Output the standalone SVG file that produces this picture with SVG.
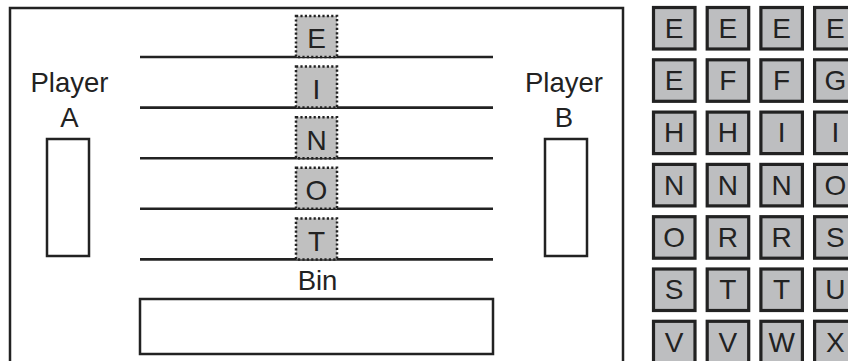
<svg xmlns="http://www.w3.org/2000/svg" width="848" height="361" viewBox="0 0 848 361">
<style>
.frame{fill:none;stroke:#222;stroke-width:2.5}
.rail{stroke:#222;stroke-width:2.6}
.box{fill:#fff;stroke:#222;stroke-width:2.5}
.slot{fill:#c0c0c0;stroke:#222;stroke-width:2.5;stroke-dasharray:2.2 2.2}
.tile{fill:#bdbec0;stroke:#222;stroke-width:3.2}
.lbl{font-family:"Liberation Sans",Arial,sans-serif;font-size:27.5px;fill:#222;text-anchor:middle}
.ltr{font-family:"Liberation Sans",Arial,sans-serif;font-size:28px;fill:#222;text-anchor:middle}
</style>
<rect width="848" height="361" fill="#fff"/>
<g id="board">
<rect class="frame" x="10" y="8" width="613" height="370"/>
</g>
<g id="connectors">
<line class="rail" x1="140" y1="57" x2="493" y2="57"/>
<line class="rail" x1="140" y1="107.6" x2="493" y2="107.6"/>
<line class="rail" x1="140" y1="158.2" x2="493" y2="158.2"/>
<line class="rail" x1="140" y1="208.8" x2="493" y2="208.8"/>
<line class="rail" x1="140" y1="259.4" x2="493" y2="259.4"/>
</g>
<g id="slot-E"><rect class="slot" x="296" y="16" width="41" height="41"/><text class="ltr" x="316.5" y="48.3">E</text></g>
<g id="slot-I"><rect class="slot" x="296" y="66.6" width="41" height="41"/><text class="ltr" x="316.5" y="98.9">I</text></g>
<g id="slot-N"><rect class="slot" x="296" y="117.2" width="41" height="41"/><text class="ltr" x="316.5" y="149.5">N</text></g>
<g id="slot-O"><rect class="slot" x="296" y="167.8" width="41" height="41"/><text class="ltr" x="316.5" y="200.1">O</text></g>
<g id="slot-T"><rect class="slot" x="296" y="218.4" width="41" height="41"/><text class="ltr" x="316.5" y="250.7">T</text></g>
<g id="player-a">
<text class="lbl" x="69.5" y="91.5">Player</text>
<text class="lbl" x="69.5" y="127">A</text>
<rect class="box" x="47" y="139" width="42" height="117"/>
</g>
<g id="player-b">
<text class="lbl" x="564" y="91.5">Player</text>
<text class="lbl" x="564" y="127">B</text>
<rect class="box" x="545" y="139" width="42" height="117"/>
</g>
<g id="bin">
<text class="lbl" x="317.5" y="290">Bin</text>
<rect class="box" x="140" y="299" width="353" height="55"/>
</g>
<g id="pool">
<g id="t1"><rect class="tile" x="653.5" y="7.5" width="41.5" height="41.5"/><text class="ltr" x="674.2" y="37.8">E</text></g>
<g id="t2"><rect class="tile" x="707.2" y="7.5" width="41.5" height="41.5"/><text class="ltr" x="727.9" y="37.8">E</text></g>
<g id="t3"><rect class="tile" x="760.9" y="7.5" width="41.5" height="41.5"/><text class="ltr" x="781.6" y="37.8">E</text></g>
<g id="t4"><rect class="tile" x="814.6" y="7.5" width="41.5" height="41.5"/><text class="ltr" x="835.3" y="37.8">E</text></g>
<g id="t5"><rect class="tile" x="653.5" y="59.8" width="41.5" height="41.5"/><text class="ltr" x="674.2" y="90.1">E</text></g>
<g id="t6"><rect class="tile" x="707.2" y="59.8" width="41.5" height="41.5"/><text class="ltr" x="727.9" y="90.1">F</text></g>
<g id="t7"><rect class="tile" x="760.9" y="59.8" width="41.5" height="41.5"/><text class="ltr" x="781.6" y="90.1">F</text></g>
<g id="t8"><rect class="tile" x="814.6" y="59.8" width="41.5" height="41.5"/><text class="ltr" x="835.3" y="90.1">G</text></g>
<g id="t9"><rect class="tile" x="653.5" y="112.1" width="41.5" height="41.5"/><text class="ltr" x="674.2" y="142.4">H</text></g>
<g id="t10"><rect class="tile" x="707.2" y="112.1" width="41.5" height="41.5"/><text class="ltr" x="727.9" y="142.4">H</text></g>
<g id="t11"><rect class="tile" x="760.9" y="112.1" width="41.5" height="41.5"/><text class="ltr" x="781.6" y="142.4">I</text></g>
<g id="t12"><rect class="tile" x="814.6" y="112.1" width="41.5" height="41.5"/><text class="ltr" x="835.3" y="142.4">I</text></g>
<g id="t13"><rect class="tile" x="653.5" y="164.4" width="41.5" height="41.5"/><text class="ltr" x="674.2" y="194.7">N</text></g>
<g id="t14"><rect class="tile" x="707.2" y="164.4" width="41.5" height="41.5"/><text class="ltr" x="727.9" y="194.7">N</text></g>
<g id="t15"><rect class="tile" x="760.9" y="164.4" width="41.5" height="41.5"/><text class="ltr" x="781.6" y="194.7">N</text></g>
<g id="t16"><rect class="tile" x="814.6" y="164.4" width="41.5" height="41.5"/><text class="ltr" x="835.3" y="194.7">O</text></g>
<g id="t17"><rect class="tile" x="653.5" y="216.7" width="41.5" height="41.5"/><text class="ltr" x="674.2" y="247">O</text></g>
<g id="t18"><rect class="tile" x="707.2" y="216.7" width="41.5" height="41.5"/><text class="ltr" x="727.9" y="247">R</text></g>
<g id="t19"><rect class="tile" x="760.9" y="216.7" width="41.5" height="41.5"/><text class="ltr" x="781.6" y="247">R</text></g>
<g id="t20"><rect class="tile" x="814.6" y="216.7" width="41.5" height="41.5"/><text class="ltr" x="835.3" y="247">S</text></g>
<g id="t21"><rect class="tile" x="653.5" y="269" width="41.5" height="41.5"/><text class="ltr" x="674.2" y="299.3">S</text></g>
<g id="t22"><rect class="tile" x="707.2" y="269" width="41.5" height="41.5"/><text class="ltr" x="727.9" y="299.3">T</text></g>
<g id="t23"><rect class="tile" x="760.9" y="269" width="41.5" height="41.5"/><text class="ltr" x="781.6" y="299.3">T</text></g>
<g id="t24"><rect class="tile" x="814.6" y="269" width="41.5" height="41.5"/><text class="ltr" x="835.3" y="299.3">U</text></g>
<g id="t25"><rect class="tile" x="653.5" y="321.3" width="41.5" height="41.5"/><text class="ltr" x="674.2" y="351.6">V</text></g>
<g id="t26"><rect class="tile" x="707.2" y="321.3" width="41.5" height="41.5"/><text class="ltr" x="727.9" y="351.6">V</text></g>
<g id="t27"><rect class="tile" x="760.9" y="321.3" width="41.5" height="41.5"/><text class="ltr" x="781.6" y="351.6">W</text></g>
<g id="t28"><rect class="tile" x="814.6" y="321.3" width="41.5" height="41.5"/><text class="ltr" x="835.3" y="351.6">X</text></g>
</g>
</svg>
